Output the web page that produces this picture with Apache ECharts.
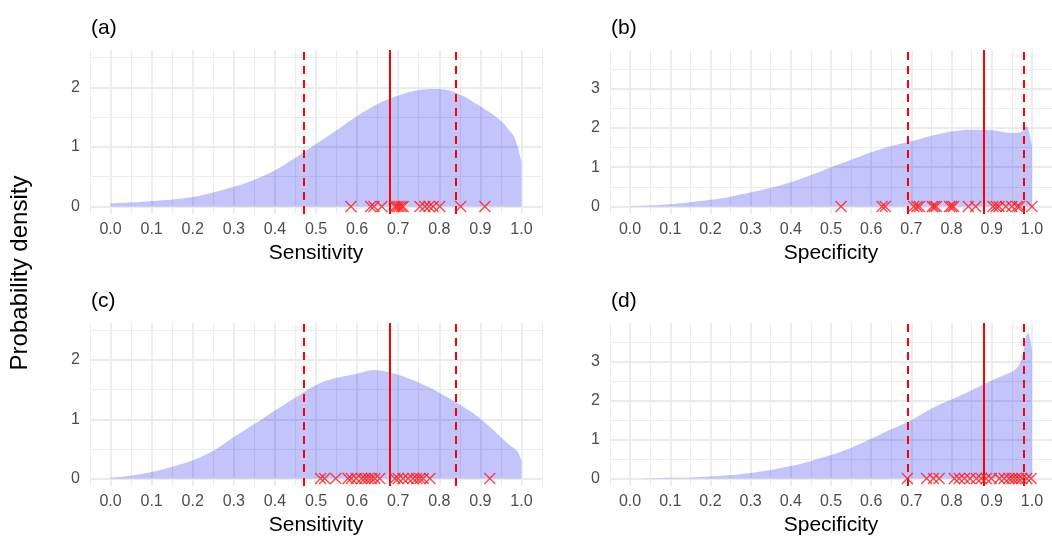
<!DOCTYPE html>
<html>
<head>
<meta charset="utf-8">
<script src="https://cdn.jsdelivr.net/npm/echarts@6/dist/echarts.min.js"></script>
<style>
  html, body { margin: 0; padding: 0; background: #fff; }
  #main { width: 1052px; height: 537px; }
</style>
</head>
<body>
<div id="main"></div>
<script>
// x ticks shared by all four panels
var majorX = [0, 0.1, 0.2, 0.3, 0.4, 0.5, 0.6, 0.7, 0.8, 0.9, 1.0];
var minorX = [-0.05, 0.05, 0.15, 0.25, 0.35, 0.45, 0.55, 0.65, 0.75, 0.85, 0.95, 1.05];
var sensTicks = [0, 1, 2];
var sensMinor = [0.5, 1.5, 2.5];
var specTicks = [0, 1, 2, 3];
var specMinor = [0.5, 1.5, 2.5, 3.5];

// (a) sensitivity, top
var densAx = [0, 0.05, 0.1, 0.15, 0.2, 0.25, 0.3, 0.35, 0.4, 0.45, 0.5, 0.55, 0.6, 0.65, 0.7, 0.75, 0.8, 0.85, 0.9, 0.95, 0.97, 0.98, 0.99, 1.0];
var densAy = [0.05, 0.07, 0.095, 0.12, 0.16, 0.235, 0.33, 0.45, 0.61, 0.82, 1.05, 1.28, 1.52, 1.72, 1.86, 1.955, 1.97, 1.88, 1.68, 1.44, 1.28, 1.2, 1.02, 0.75];
var studiesA = [0.585, 0.633, 0.641, 0.66, 0.692, 0.697, 0.702, 0.708, 0.712, 0.753, 0.765, 0.775, 0.785, 0.801, 0.852, 0.911];
var linesA = [0.47, 0.677, 0.845];

// (b) specificity, top
var densBx = [0, 0.05, 0.1, 0.15, 0.2, 0.25, 0.3, 0.35, 0.4, 0.45, 0.5, 0.55, 0.6, 0.65, 0.7, 0.75, 0.8, 0.85, 0.9, 0.95, 0.97, 0.98, 0.985, 0.99, 1.0];
var densBy = [0.01, 0.03, 0.06, 0.11, 0.17, 0.25, 0.36, 0.48, 0.62, 0.8, 1.0, 1.19, 1.38, 1.54, 1.66, 1.8, 1.91, 1.95, 1.94, 1.87, 1.88, 1.97, 2.04, 2.01, 1.55];
var studiesB = [0.525, 0.627, 0.635, 0.706, 0.714, 0.72, 0.752, 0.757, 0.762, 0.795, 0.8, 0.805, 0.842, 0.86, 0.903, 0.911, 0.918, 0.935, 0.95, 0.963, 0.969, 1.0];
var linesB = [0.694, 0.882, 0.976];

// (c) sensitivity, bottom
var densCx = [0, 0.05, 0.1, 0.15, 0.2, 0.25, 0.3, 0.35, 0.4, 0.45, 0.5, 0.55, 0.6, 0.64, 0.68, 0.7, 0.75, 0.8, 0.85, 0.9, 0.95, 0.97, 0.99, 1.0];
var densCy = [0.02, 0.05, 0.11, 0.2, 0.31, 0.47, 0.7, 0.92, 1.15, 1.37, 1.58, 1.7, 1.77, 1.83, 1.79, 1.75, 1.62, 1.45, 1.25, 1.01, 0.7, 0.57, 0.46, 0.3];
var studiesC = [0.511, 0.521, 0.548, 0.578, 0.586, 0.598, 0.611, 0.619, 0.627, 0.635, 0.643, 0.655, 0.692, 0.7, 0.712, 0.724, 0.736, 0.745, 0.753, 0.761, 0.777, 0.923];
var linesC = [0.47, 0.677, 0.845];

// (d) specificity, bottom
var densDx = [0, 0.05, 0.1, 0.15, 0.2, 0.25, 0.3, 0.35, 0.4, 0.45, 0.5, 0.55, 0.6, 0.65, 0.7, 0.75, 0.8, 0.85, 0.9, 0.95, 0.96, 0.97, 0.975, 0.98, 0.985, 0.99, 0.995, 1.0];
var densDy = [0, 0.01, 0.02, 0.03, 0.05, 0.09, 0.145, 0.22, 0.32, 0.45, 0.6, 0.79, 1.02, 1.26, 1.49, 1.79, 2.02, 2.26, 2.51, 2.73, 2.81, 2.94, 3.07, 3.32, 3.62, 3.74, 3.6, 3.3];
var studiesD = [0.69, 0.738, 0.755, 0.769, 0.807, 0.819, 0.832, 0.846, 0.862, 0.874, 0.886, 0.899, 0.919, 0.931, 0.943, 0.951, 0.959, 0.967, 0.975, 0.987, 0.998];
var linesD = [0.694, 0.882, 0.976];

var chart = echarts.init(document.getElementById('main'));
var font = '"Liberation Sans", Arial, sans-serif';

var panels = [
  { tag: '(a)', name: 'Sensitivity', xs: densAx, ys: densAy, pts: studiesA, lines: linesA, left: 90, top: 50, ymin: -0.125, ymax: 2.625, ticks: sensTicks, minor: sensMinor },
  { tag: '(b)', name: 'Specificity', xs: densBx, ys: densBy, pts: studiesB, lines: linesB, left: 610, top: 50, ymin: -0.19, ymax: 3.98, ticks: specTicks, minor: specMinor },
  { tag: '(c)', name: 'Sensitivity', xs: densCx, ys: densCy, pts: studiesC, lines: linesC, left: 90, top: 323, ymin: -0.125, ymax: 2.625, ticks: sensTicks, minor: sensMinor },
  { tag: '(d)', name: 'Specificity', xs: densDx, ys: densDy, pts: studiesD, lines: linesD, left: 610, top: 323, ymin: -0.19, ymax: 3.98, ticks: specTicks, minor: specMinor }
];

var grids = [], xAxes = [], yAxes = [], series = [], titles = [];
var cross = 'path://M0,0L10,10M10,0L0,10';

panels.forEach(function (p, i) {
  grids.push({ left: p.left, top: p.top, width: 452, height: 164 });
  titles.push({ text: p.tag, left: p.left + 1, top: p.top - 32, padding: 0, textStyle: { fontFamily: font, fontSize: 21, fontWeight: 'normal', color: '#000' } });

  // major x axis (labels + thicker grid)
  xAxes.push({
    type: 'value', gridIndex: i, min: -0.05, max: 1.05,
    axisLine: { show: false },
    axisTick: { show: false, customValues: majorX },
    axisLabel: { customValues: majorX, formatter: function (v) { return v.toFixed(1); }, color: '#4d4d4d', fontSize: 16, fontFamily: font, margin: 8 },
    splitLine: { lineStyle: { color: '#ebebeb', width: 1.8 } },
    name: p.name, nameLocation: 'middle', nameGap: 29,
    nameTextStyle: { fontFamily: font, fontSize: 21, color: '#000' }
  });
  // minor x grid
  xAxes.push({
    type: 'value', gridIndex: i, min: -0.05, max: 1.05,
    axisLine: { show: false },
    axisTick: { show: false, customValues: minorX },
    axisLabel: { show: false },
    splitLine: { lineStyle: { color: '#ededed', width: 1 } }
  });
  yAxes.push({
    type: 'value', gridIndex: i, min: p.ymin, max: p.ymax,
    axisLine: { show: false },
    axisTick: { show: false, customValues: p.ticks },
    axisLabel: { customValues: p.ticks, color: '#4d4d4d', fontSize: 16, fontFamily: font, margin: 10 },
    splitLine: { lineStyle: { color: '#ebebeb', width: 1.8 } }
  });
  yAxes.push({
    type: 'value', gridIndex: i, min: p.ymin, max: p.ymax,
    axisLine: { show: false },
    axisTick: { show: false, customValues: p.minor },
    axisLabel: { show: false },
    splitLine: { lineStyle: { color: '#ededed', width: 1 } }
  });

  var dens = p.xs.map(function (x, k) { return [x, p.ys[k]]; });
  series.push({
    type: 'line', xAxisIndex: 2 * i, yAxisIndex: 2 * i,
    data: dens, showSymbol: false, smooth: 0.35,
    lineStyle: { width: 0 },
    areaStyle: { color: 'rgba(0,0,240,0.33)', origin: 0 },
    silent: true,
    markLine: {
      silent: true, symbol: 'none', label: { show: false },
      lineStyle: { color: '#ff0000', width: 2 },
      data: [
        { xAxis: p.lines[0], lineStyle: { type: [8, 6], color: '#ff0000', width: 2 } },
        { xAxis: p.lines[1], lineStyle: { type: 'solid', color: '#ff0000', width: 2 } },
        { xAxis: p.lines[2], lineStyle: { type: [8, 6], color: '#ff0000', width: 2 } }
      ]
    }
  });
  series.push({
    type: 'scatter', xAxisIndex: 2 * i, yAxisIndex: 2 * i,
    data: p.pts.map(function (v) { return [v, 0]; }),
    symbol: cross, symbolSize: 11,
    itemStyle: { color: 'rgba(0,0,0,0)', borderColor: '#ff1a1a', borderWidth: 1.4 },
    z: 5
  });
});

chart.setOption({
  animation: false,
  backgroundColor: '#fff',
  title: titles,
  grid: grids,
  xAxis: xAxes,
  yAxis: yAxes,
  series: series,
  graphic: [{
    type: 'text', x: 20, y: 273, rotation: Math.PI / 2,
    style: { text: 'Probability density', font: '24px "Liberation Sans", Arial, sans-serif', fill: '#000', textAlign: 'center', textVerticalAlign: 'middle', align: 'center', verticalAlign: 'middle' }
  }]
});
</script>
</body>
</html>
